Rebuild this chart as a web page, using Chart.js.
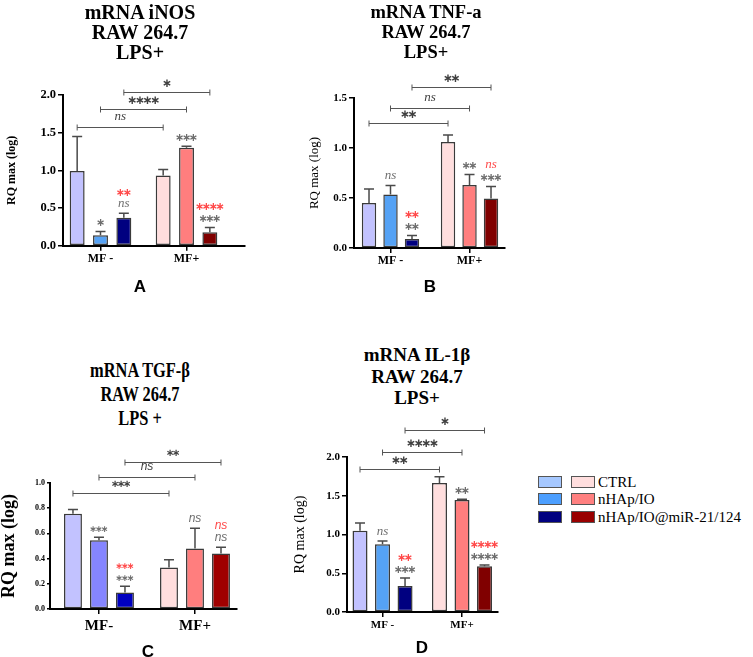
<!DOCTYPE html>
<html>
<head>
<meta charset="utf-8">
<script src="https://cdn.jsdelivr.net/npm/chart.js@4.4.1/dist/chart.umd.min.js"></script>
<style>
  body { margin: 0; background: #fff; }
  #page { position: relative; width: 753px; height: 657px; overflow: hidden; }
  canvas { position: absolute; }
  .title { position: absolute; width: 260px; text-align: center; font-family: 'Liberation Serif', 'DejaVu Serif', serif; font-weight: bold; color: #000; white-space: nowrap; }
  .letter { position: absolute; width: 40px; text-align: center; font: bold 17px 'Liberation Sans', Arial, sans-serif; line-height: 20px; color: #000; }
  .sw { position: absolute; width: 22px; height: 10px; border: 1px solid #555; }
  .lt { position: absolute; font: 15px 'Liberation Serif', serif; line-height: 18px; color: #000; white-space: nowrap; }
</style>
</head>
<body>
<div id="page">
  <canvas id="cA" width="260" height="240" style="left:0;top:60px"></canvas>
  <canvas id="cB" width="220" height="240" style="left:300px;top:60px"></canvas>
  <canvas id="cC" width="260" height="227" style="left:0;top:430px"></canvas>
  <canvas id="cD" width="230" height="247" style="left:290px;top:410px"></canvas>

  <div class="title" style="left:10px;top:2px;font-size:20px;line-height:20px">mRNA iNOS<br>RAW 264.7<br>LPS+</div>
  <div class="title" style="left:296px;top:2px;font-size:18.5px;line-height:20px">mRNA TNF-a<br>RAW 264.7<br>LPS+</div>
  <div class="title" style="left:10px;top:358px;font-size:20px;line-height:24px;transform:scaleX(0.82)">mRNA TGF-β<br>RAW 264.7<br>LPS +</div>
  <div class="title" style="left:287px;top:344px;font-size:19px;line-height:21.5px">mRNA IL-1β<br>RAW 264.7<br>LPS+</div>

  <div class="letter" style="left:120px;top:277px">A</div>
  <div class="letter" style="left:410px;top:277px">B</div>
  <div class="letter" style="left:128px;top:642px">C</div>
  <div class="letter" style="left:402px;top:638px">D</div>

  <div id="legend"></div>
</div>
<script>
// group labels on the x axis
const groups = ['MF -', 'MF+'];
const groupsC = ['MF-', 'MF+'];
const seriesNames = ['CTRL', 'nHAp/IO', 'nHAp/IO@miR-21/124'];

// bar order: CTRL, nHAp/IO, nHAp/IO@miR (MF -) then the same three for MF+
// A - iNOS
const inosMean = [0.99, 0.14, 0.37, 0.93, 1.30, 0.18];
const inosErr = [1.45, 0.19, 0.43, 1.01, 1.32, 0.24];
const inosMarks = ['', '*', 'ns', '', '***', '***'];
const inosRed = ['', '', '**', '', '', '****'];
const inosBracketY = [1.57, 1.82, 2.04];
const inosBracketText = ['ns', '****', '*'];

// B - TNF-a
const tnfMean = [0.45, 0.535, 0.09, 1.06, 0.63, 0.495];
const tnfErr = [0.59, 0.625, 0.125, 1.13, 0.735, 0.615];
const tnfMarks = ['', 'ns', '**', '', '**', '***'];
const tnfRed = ['', '', '**', '', '', 'ns'];
const tnfBracketY = [1.25, 1.40, 1.61];
const tnfBracketText = ['**', 'ns', '**'];

// C - TGF-b
const tgfMean = [0.755, 0.545, 0.13, 0.33, 0.48, 0.44];
const tgfErr = [0.79, 0.57, 0.18, 0.39, 0.64, 0.49];
const tgfMarks = ['', '***', '***', '', 'ns', 'ns'];
const tgfRed = ['', '', '***', '', '', 'ns'];
const tgfBracketY = [0.92, 1.05, 1.17];
const tgfBracketText = ['***', 'ns', '**'];

// D - IL-1b
const il1Mean = [1.05, 0.875, 0.335, 1.665, 1.445, 0.59];
const il1Err = [1.15, 0.915, 0.44, 1.745, 1.455, 0.605];
const il1Marks = ['', 'ns', '***', '', '**', '****'];
const il1Red = ['', '', '**', '', '', '****'];
const il1BracketY = [1.845, 2.06, 2.35];
const il1BracketText = ['**', '****', '*'];

// colours (MF - blues, MF+ reds)
const blues = ['#c2c2ff', '#55a2f5', '#000080'];
const reds = ['#ffdede', '#ff7e7e', '#800000'];
const bluesC = ['#c2c2ff', '#8585ff', '#0000c0'];
const redsC = ['#ffdede', '#ff7e7e', '#a00000'];
const legendBlues = ['#a6c8ff', '#4d9fff', '#000080'];
const legendReds = ['#ffdede', '#ff8080', '#990000'];

const GREY = '#6e6e6e';
const RED = '#ff4a4a';

function drawMark(ctx, text, x, y, color, st) {
    if (!text) return;
    ctx.fillStyle = color;
    ctx.textAlign = 'center';
    ctx.textBaseline = 'middle';
    if (text === 'ns') {
        ctx.font = st.nsFont;
        ctx.fillText('ns', x, y - 2);
        return;
    }
    ctx.font = 'bold ' + st.starSize + 'px "DejaVu Sans"';
    const n = text.length;
    for (let s = 0; s < n; s++) {
        ctx.fillText('\u2217', x + (s - (n - 1) / 2) * st.starGap, y);
    }
}

// error bars, significance marks and comparison brackets
function sigPlugin(p) {
    return {
        id: 'sig',
        afterDatasetsDraw(chart) {
            const ctx = chart.ctx;
            const yScale = chart.scales.y;
            ctx.save();
            for (let k = 0; k < 3; k++) {
                const meta = chart.getDatasetMeta(k);
                meta.data.forEach((bar, j) => {
                    const i = j * 3 + k;
                    const top = yScale.getPixelForValue(p.err[i]);
                    ctx.strokeStyle = '#4a4a4a';
                    ctx.lineWidth = 1.5;
                    ctx.beginPath();
                    ctx.moveTo(bar.x, bar.y);
                    ctx.lineTo(bar.x, top);
                    ctx.moveTo(bar.x - p.cap, top);
                    ctx.lineTo(bar.x + p.cap, top);
                    ctx.stroke();
                    drawMark(ctx, p.marks[i], bar.x, top - p.gap1, GREY, p);
                    drawMark(ctx, p.red[i], bar.x, top - p.gap2, RED, p);
                });
            }
            p.bracketY.forEach((v, k) => {
                const meta = chart.getDatasetMeta(k);
                const x1 = meta.data[0].x;
                const x2 = meta.data[1].x;
                const py = Math.round(yScale.getPixelForValue(v)) + 0.5;
                ctx.strokeStyle = '#555';
                ctx.lineWidth = 1;
                ctx.beginPath();
                ctx.moveTo(x1, py); ctx.lineTo(x2, py);
                ctx.moveTo(x1, py - 3); ctx.lineTo(x1, py + 3);
                ctx.moveTo(x2, py - 3); ctx.lineTo(x2, py + 3);
                ctx.stroke();
                drawMark(ctx, p.bracketText[k], (x1 + x2) / 2, py - p.labelGap, '#404040',
                    {nsFont: p.nsFont, starSize: p.bStarSize, starGap: p.bStarGap});
            });
            ctx.restore();
        }
    };
}

function makePanel(id, p) {
    const serif = 'Liberation Serif';
    return new Chart(document.getElementById(id), {
        type: 'bar',
        data: {
            datasets: seriesNames.map((name, k) => ({
                label: name,
                data: p.groups.map((g, j) => ({x: j + 1, y: p.mean[j * 3 + k]})),
                backgroundColor: [p.colors[0][k], p.colors[1][k]],
                borderColor: '#3a3a3a',
                borderWidth: 1.5,
                borderSkipped: false,
                categoryPercentage: p.cp,
                barPercentage: p.bp
            }))
        },
        options: {
            responsive: false,
            animation: false,
            layout: {padding: {top: p.padTop, right: p.padRight, left: 0, bottom: 0}},
            plugins: {legend: {display: false}, tooltip: {enabled: false}},
            scales: {
                x: {
                    type: 'linear',
                    min: p.xMin,
                    max: p.xMax,
                    offset: false,
                    afterBuildTicks: s => { s.ticks = p.groups.map((g, i) => ({value: i + 1})); },
                    afterFit: s => { s.height = p.xh; },
                    ticks: {
                        callback: (v, i) => p.groups[i],
                        autoSkip: false,
                        maxRotation: 0,
                        color: '#000',
                        padding: p.xPad,
                        font: {family: serif, size: p.xFont, weight: 'bold'}
                    },
                    grid: {offset: false, drawOnChartArea: false, drawTicks: true, tickLength: 5, color: '#000', lineWidth: 1.5},
                    border: {display: true, color: '#000', width: 2}
                },
                y: {
                    min: 0,
                    max: p.yMax,
                    afterFit: s => { s.width = p.yw; },
                    ticks: {
                        stepSize: p.step,
                        callback: v => v.toFixed(1),
                        color: '#000',
                        padding: 2,
                        font: {family: serif, size: p.yFont, weight: 'bold'}
                    },
                    grid: {drawOnChartArea: false, drawTicks: true, tickLength: p.tick, color: '#000', lineWidth: 1.5},
                    border: {display: true, color: '#000', width: 2},
                    title: {
                        display: true,
                        text: 'RQ max (log)',
                        color: '#000',
                        padding: {top: p.titlePad, bottom: 0},
                        font: {family: serif, size: p.titleSize, weight: p.titleWeight, lineHeight: p.titleLH}
                    }
                }
            }
        },
        plugins: [sigPlugin(p)]
    });
}

const markStyleA = {cap: 5, gap1: 8, gap2: 20, starSize: 11, starGap: 6.8, bStarSize: 12, bStarGap: 7.7, labelGap: 9, nsFont: 'italic 13px "Liberation Serif"'};

makePanel('cA', Object.assign({}, markStyleA, {
    groups: groups, mean: inosMean, err: inosErr, marks: inosMarks, red: inosRed,
    bracketY: inosBracketY, bracketText: inosBracketText, colors: [blues, reds],
    yMax: 2, step: 0.5, xMin: 0.564, xMax: 2.68, cp: 0.814, bp: 0.64,
    padTop: 35, padRight: 15, yw: 63, xh: 54.3, xPad: 1, xFont: 12, yFont: 12.5, tick: 5,
    titleSize: 12, titleWeight: 'bold', titleLH: 1.2, titlePad: 4.8
}));

makePanel('cB', Object.assign({}, markStyleA, {
    groups: groups, mean: tnfMean, err: tnfErr, marks: tnfMarks, red: tnfRed,
    bracketY: tnfBracketY, bracketText: tnfBracketText, colors: [blues, reds],
    yMax: 1.5, step: 0.5, xMin: 0.538, xMax: 2.449, cp: 0.816, bp: 0.67,
    padTop: 38, padRight: 15, yw: 54, xh: 52, xPad: 1, xFont: 12, yFont: 11, tick: 5,
    titleSize: 13, titleWeight: 'normal', titleLH: 1.2, titlePad: 7.2
}));

makePanel('cC', Object.assign({}, markStyleA, {
    groups: groupsC, mean: tgfMean, err: tgfErr, marks: tgfMarks, red: tgfRed,
    bracketY: tgfBracketY, bracketText: tgfBracketText, colors: [bluesC, redsC],
    starSize: 9, starGap: 5.7, bStarSize: 10, bStarGap: 6, nsFont: 'italic 12px "Liberation Sans Narrow", "Liberation Sans"',
    yMax: 1.0, step: 0.2, xMin: 0.49, xMax: 2.4375, cp: 0.8125, bp: 0.69,
    padTop: 53, padRight: 23, yw: 50, xh: 48, xPad: 3, xFont: 15, yFont: 8, tick: 3,
    titleSize: 18, titleWeight: 'bold', titleLH: 1.0, titlePad: 0
}));

makePanel('cD', Object.assign({}, markStyleA, {
    groups: groups, mean: il1Mean, err: il1Err, marks: il1Marks, red: il1Red,
    bracketY: il1BracketY, bracketText: il1BracketText, colors: [blues, reds],
    yMax: 2, step: 0.5, xMin: 0.553, xMax: 2.453, cp: 0.85, bp: 0.667,
    padTop: 47, padRight: 22, yw: 57, xh: 45, xPad: 2, xFont: 11, yFont: 11, tick: 5,
    titleSize: 14, titleWeight: 'normal', titleLH: 1.2, titlePad: 1.6
}));

// legend: two swatch columns (MF - / MF+) and the series name
const legend = document.getElementById('legend');
const legendTops = [476, 493, 511];
seriesNames.forEach((name, k) => {
    legend.insertAdjacentHTML('beforeend',
        '<div class="sw" style="left:538px;top:' + legendTops[k] + 'px;background:' + legendBlues[k] + '"></div>' +
        '<div class="sw" style="left:571px;top:' + legendTops[k] + 'px;background:' + legendReds[k] + '"></div>' +
        '<div class="lt" style="left:598px;top:' + (legendTops[k] - 3) + 'px">' + name + '</div>');
});
</script>
</body>
</html>
